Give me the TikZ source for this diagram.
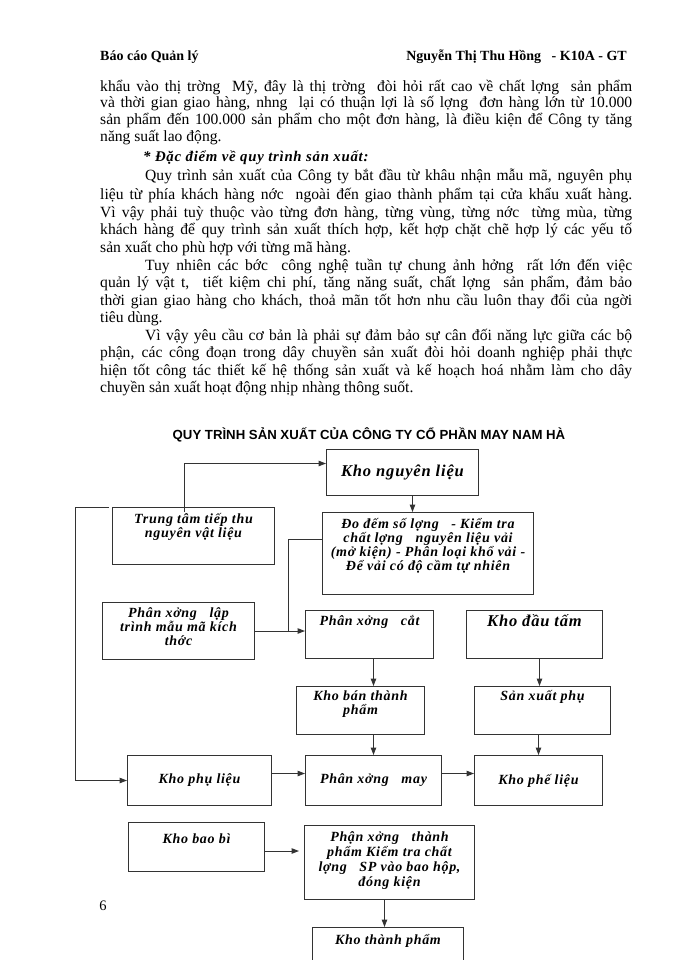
\documentclass[tikz,border=0pt]{standalone}
\usepackage{fontspec}
\setmainfont{Liberation Serif}
\newfontfamily\titlefont{Liberation Sans}
\newfontfamily\boxfont[LetterSpace=5]{Liberation Serif}
\usetikzlibrary{positioning,arrows.meta}

\begin{document}
\begin{tikzpicture}[x=1pt,y=-1pt,
  box/.style={draw=black!80, line width=1pt, anchor=north west, inner sep=0pt},
  boxtxt/.style={font=\boxfont\bfseries\itshape\fontsize{14}{14}\selectfont, align=center, inner sep=0pt},
  bigtxt/.style={font=\boxfont\bfseries\itshape\fontsize{16.5}{17}\selectfont, align=center, inner sep=0pt},
  arr/.style={draw=black!80, line width=1pt, -{Triangle[length=7.5pt,width=5.5pt]}},
  link/.style={draw=black!80, line width=1pt},
  body/.style={anchor=base west, inner sep=0pt, font=\fontsize{15.6}{17}\selectfont},
  head/.style={inner sep=0pt, font=\bfseries\fontsize{14}{16}\selectfont}]
\useasboundingbox (0,0) rectangle (700,960);
\clip (0,0) rectangle (700,960);

% page head
\node[head, anchor=base west] (hl) at (100,61) {Báo cáo Quản lý};
\node[head, anchor=base east] (hr) at (627,61) {Nguyễn Thị Thu Hồng~~ - K10A - GT};

% running text
\node[body] (l1) at (100,92) {\makebox[532pt][s]{khẩu vào thị trờng~ Mỹ, đây là thị trờng~ đòi hỏi rất cao về chất lợng~ sản phẩm}};
\node[body] (l2) at (100,108) {\makebox[532pt][s]{và thời gian giao hàng, nhng~ lại có thuận lợi là số lợng~ đơn hàng lớn từ 10.000}};
\node[body] (l3) at (100,125) {\makebox[532pt][s]{sản phẩm đến 100.000 sản phẩm cho một đơn hàng, là điều kiện để Công ty tăng}};
\node[body] (l4) at (100,142) {năng suất lao động.};
\node[body, font=\boxfont\bfseries\itshape\fontsize{14.8}{17}\selectfont] (l5) at (143,161) {* Đặc điểm về quy trình sản xuất:};
\node[body] (l6) at (145,181) {\makebox[487pt][s]{Quy trình sản xuất của Công ty bắt đầu từ khâu nhận mẫu mã, nguyên phụ}};
\node[body] (l7) at (100,199) {\makebox[532pt][s]{liệu từ phía khách hàng nớc~ ngoài đến giao thành phẩm tại cửa khẩu xuất hàng.}};
\node[body] (l8) at (100,217) {\makebox[532pt][s]{Vì vậy phải tuỳ thuộc vào từng đơn hàng, từng vùng, từng nớc~ từng mùa, từng}};
\node[body] (l9) at (100,234) {\makebox[532pt][s]{khách hàng để quy trình sản xuất thích hợp, kết hợp chặt chẽ hợp lý các yếu tố}};
\node[body] (l10) at (100,252) {sản xuất cho phù hợp với từng mã hàng.};
\node[body] (l11) at (145,270) {\makebox[487pt][s]{Tuy nhiên các bớc~ công nghệ tuần tự chung ảnh hởng~ rất lớn đến việc}};
\node[body] (l12) at (100,287) {\makebox[532pt][s]{quản lý vật t,~ tiết kiệm chi phí, tăng năng suất, chất lợng~ sản phẩm, đảm bảo}};
\node[body] (l13) at (100,305) {\makebox[532pt][s]{thời gian giao hàng cho khách, thoả mãn tốt hơn nhu cầu luôn thay đổi của ngời}};
\node[body] (l14) at (100,322) {tiêu dùng.};
\node[body] (l15) at (145,340) {\makebox[487pt][s]{Vì vậy yêu cầu cơ bản là phải sự đảm bảo sự cân đối năng lực giữa các bộ}};
\node[body] (l16) at (100,357) {\makebox[532pt][s]{phận, các công đoạn trong dây chuyền sản xuất đòi hỏi doanh nghiệp phải thực}};
\node[body] (l17) at (100,375) {\makebox[532pt][s]{hiện tốt công tác thiết kế hệ thống sản xuất và kế hoạch hoá nhằm làm cho dây}};
\node[body] (l18) at (100,392) {chuyền sản xuất hoạt động nhịp nhàng thông suốt.};

% chart
\node[inner sep=0pt, font=\titlefont\bfseries\fontsize{13.2}{14}\selectfont] (title) at (369,435) {QUY TRÌNH SẢN XUẤT CỦA CÔNG TY CỔ PHẦN MAY NAM HÀ};

\node[box, minimum width=152, minimum height=46, bigtxt, anchor=north west] (knl) at (326,449) {Kho nguyên liệu};
\node[box, minimum width=162, minimum height=57] (trung) at (112,507) {};
\node[box, minimum width=211, minimum height=82] (dodem) at (322,512) {};
\node[box, minimum width=152, minimum height=57] (laptrinh) at (102,602) {};
\node[box, minimum width=128, minimum height=48] (cut) at (305,610) {};
\node[box, minimum width=136, minimum height=48] (kdt) at (466,610) {};
\node[box, minimum width=128, minimum height=48] (kbtp) at (296,686) {};
\node[box, minimum width=136, minimum height=48] (sxp) at (474,686) {};
\node[box, minimum width=144, minimum height=50, boxtxt, anchor=north west] (kpl) at (127,755) {Kho phụ liệu};
\node[box, minimum width=136, minimum height=50, boxtxt, anchor=north west] (may) at (305,755) {Phân xởng~~ may};
\node[box, minimum width=128, minimum height=50, boxtxt, anchor=north west] (kphe) at (474,755) {Kho phế liệu};
\node[box, minimum width=136, minimum height=49] (kbb) at (128,822) {};
\node[box, minimum width=170, minimum height=74] (pxtp) at (304,825) {};
\node[box, minimum width=151, minimum height=50] (ktp) at (312,927) {};

\node[boxtxt, below=6pt of trung.north] (trungT) {Trung tâm tiếp thu\\nguyên vật liệu};
\node[boxtxt, below=6pt of dodem.north] (dodemT) {Đo đếm số lợng~~ - Kiểm tra\\chất lợng~~ nguyên liệu vải\\(mở kiện) - Phân loại khổ vải -\\Để vải có độ cầm tự nhiên};
\node[boxtxt, below=5pt of laptrinh.north] (laptrinhT) {Phân xởng~~ lập\\trình mẫu mã kích\\thớc};
\node[boxtxt, below=5pt of cut.north] (cutT) {Phân xởng~~ cắt};
\node[bigtxt, below=4pt of kdt.north] (kdtT) {Kho đầu tấm};
\node[boxtxt, below=4.5pt of kbtp.north] (kbtpT) {Kho bán thành\\phẩm};
\node[boxtxt, below=4.5pt of sxp.north] (sxpT) {Sản xuất phụ};
\node[boxtxt, below=12pt of kbb.north] (kbbT) {Kho bao bì};
\node[boxtxt, below=6pt of pxtp.north, font=\boxfont\bfseries\itshape\fontsize{14}{15}\selectfont] (pxtpT) {Phận xởng~~ thành\\phẩm Kiểm tra chất\\lợng~~ SP vào bao hộp,\\đóng kiện};
\node[boxtxt, below=7pt of ktp.north] (ktpT) {Kho thành phẩm};

\node[inner sep=0pt, font=\fontsize{14.5}{16}\selectfont] (page) at (103,906) {6};

\coordinate (join) at (288,630.5);
\draw[arr] ([xshift=72,yshift=-5]trung.north west) |- ([yshift=9]knl.west);
\draw[arr] ([xshift=10]knl.south) -- ([xshift=10]knl.south |- dodem.north);
\draw[link] ([yshift=14]dodem.west) -| (join);
\draw[arr] ([xshift=-3]trung.north west) -- ++(-34,0) |- (kpl.west);
\draw[arr] (laptrinh.east) -- (cut.west |- laptrinh.east);
\draw[arr] ([xshift=4]cut.south) -- ([xshift=4]cut.south |- kbtp.north);
\draw[arr] ([xshift=5]kdt.south) -- ([xshift=5]kdt.south |- sxp.north);
\draw[arr] (may.north |- kbtp.south) -- (may.north);
\draw[arr] (kphe.north |- sxp.south) -- (kphe.north);
\draw[arr] ([yshift=7]kpl.east) -- ([yshift=7]kpl.east -| may.west);
\draw[arr] ([yshift=7]may.east) -- ([yshift=7]may.east -| kphe.west);
\draw[arr] ([yshift=-4]kbb.east) -- ([yshift=-4,xshift=-5]kbb.east -| pxtp.west);
\draw[arr] ([xshift=-5]pxtp.south) -- ([xshift=-5]pxtp.south |- ktp.north);
\end{tikzpicture}
\end{document}
